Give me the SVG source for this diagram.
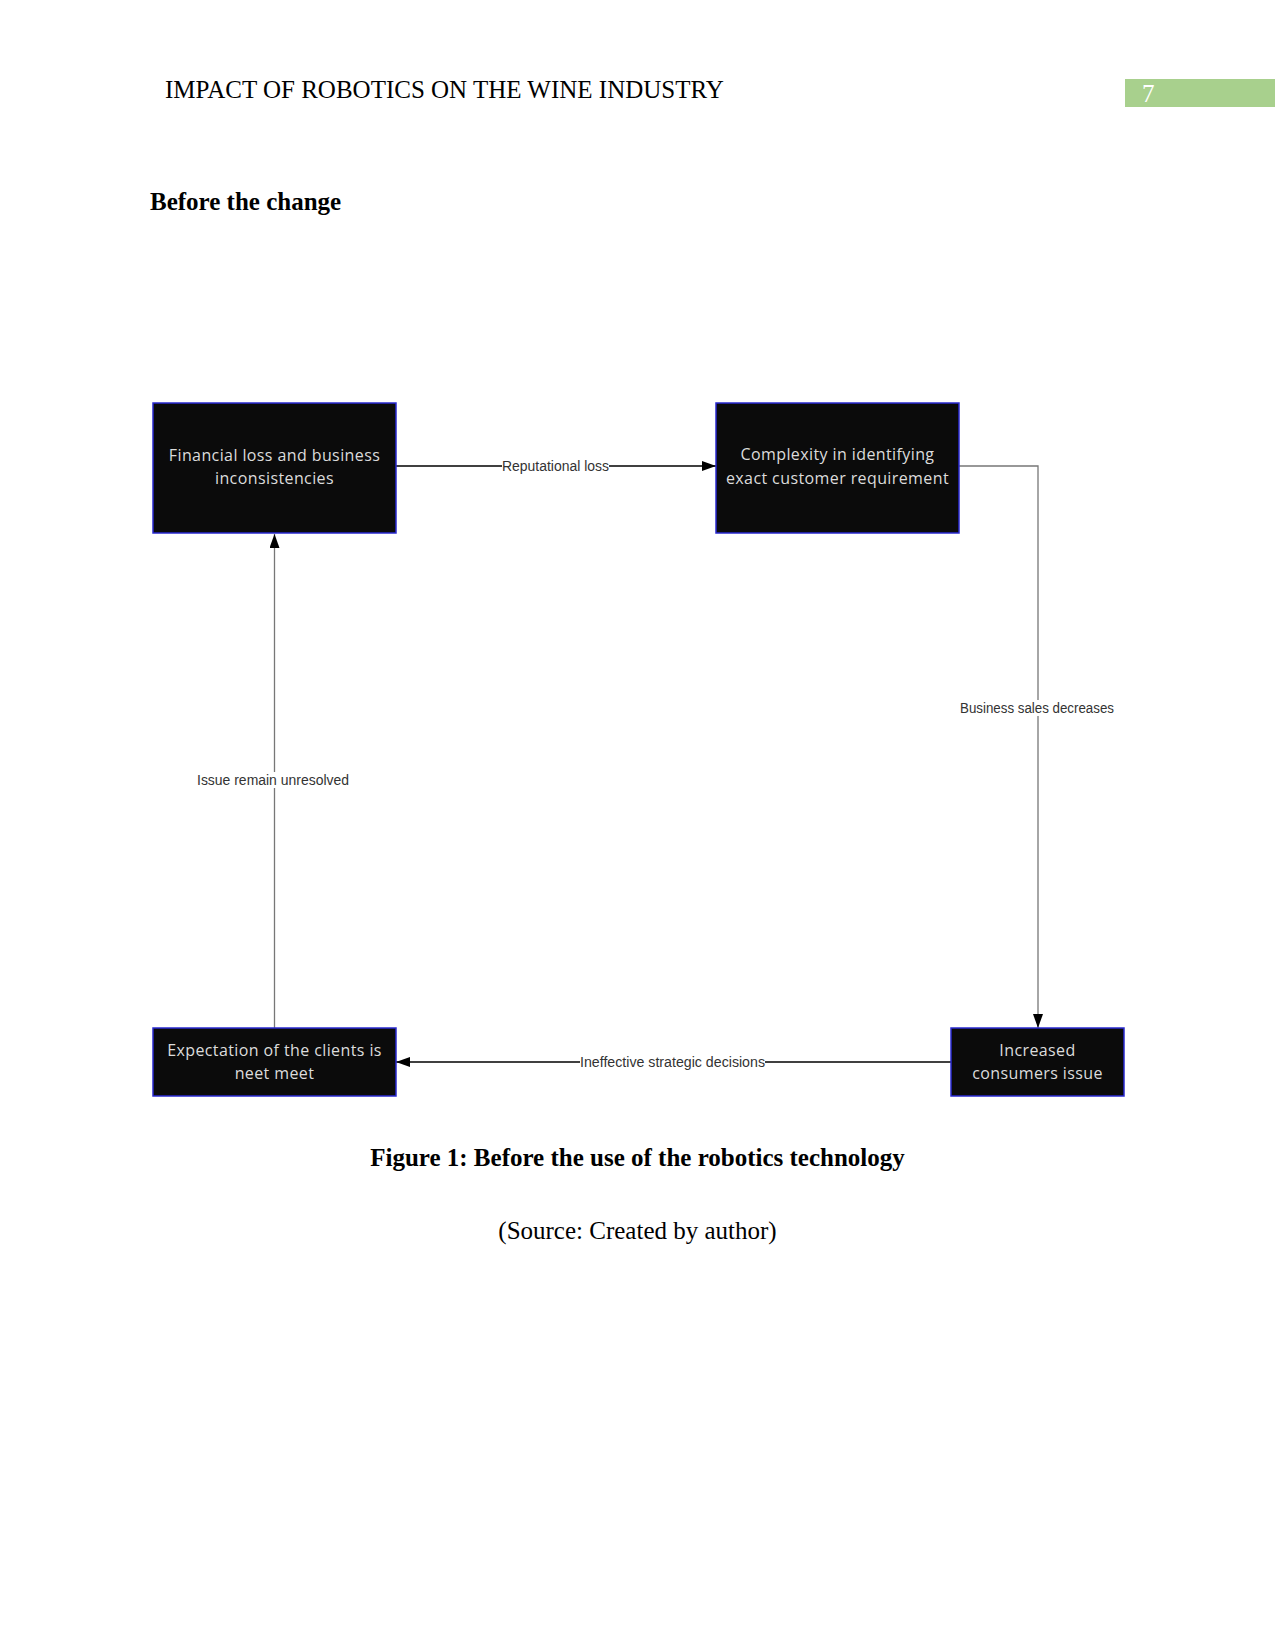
<svg xmlns="http://www.w3.org/2000/svg" width="1275" height="1650" viewBox="0 0 1275 1650">
<defs>
<style>
.serif{font-family:"Liberation Serif","Times New Roman",serif;font-size:25px;fill:#000}
.node rect{fill:#0b0b0b;stroke:#2a2ad0;stroke-width:1.5}
.node text{font-family:"Open Sans","Liberation Sans",sans-serif;font-size:16px;letter-spacing:0.4px;fill:#dcdcdc;text-anchor:middle}
.lbl{font-family:"Liberation Sans",Arial,sans-serif;font-size:14px;fill:#333;text-anchor:middle}
.lblbg{fill:#fff}
.blk{stroke:#000;stroke-width:1.3;fill:none}
.gry{stroke:#777;stroke-width:1.3;fill:none}
</style>
<marker id="arr" markerWidth="14" markerHeight="10" refX="14" refY="5" orient="auto" markerUnits="userSpaceOnUse">
<path d="M0,0 L14,5 L0,10 Z" fill="#000"/>
</marker>
</defs>
<rect width="1275" height="1650" fill="#fff"/>
<text class="serif" x="165" y="98">IMPACT OF ROBOTICS ON THE WINE INDUSTRY</text>
<rect x="1125" y="79" width="150" height="28" fill="#a8d08d"/>
<text class="serif" x="1142" y="102" style="fill:#fff">7</text>
<text class="serif" x="150" y="210" font-weight="bold">Before the change</text>

<g id="connectors">
<line class="blk" x1="396" y1="466" x2="716" y2="466" marker-end="url(#arr)"/>
<rect class="lblbg" x="502" y="458" width="107" height="16"/>
<text class="lbl" x="555.5" y="471" textLength="107" lengthAdjust="spacingAndGlyphs">Reputational loss</text>

<polyline class="gry" points="959,466 1038,466 1038,1028" marker-end="url(#arr)"/>
<rect class="lblbg" x="960" y="700" width="154" height="16"/>
<text class="lbl" x="1037" y="713" textLength="154" lengthAdjust="spacingAndGlyphs">Business sales decreases</text>

<line class="blk" x1="951" y1="1062" x2="396" y2="1062" marker-end="url(#arr)"/>
<rect class="lblbg" x="580" y="1054" width="185" height="16"/>
<text class="lbl" x="672.5" y="1067" textLength="185" lengthAdjust="spacingAndGlyphs">Ineffective strategic decisions</text>

<line class="gry" x1="274.5" y1="1028" x2="274.5" y2="534" marker-end="url(#arr)"/>
<rect class="lblbg" x="197" y="772" width="152" height="16"/>
<text class="lbl" x="273" y="785" textLength="152" lengthAdjust="spacingAndGlyphs">Issue remain unresolved</text>
</g>

<g id="node-financial" class="node">
<rect x="153" y="403" width="243" height="130"/>
<text x="274.5" y="461">Financial loss and business</text>
<text x="274.5" y="484">inconsistencies</text>
</g>
<g id="node-complexity" class="node">
<rect x="716" y="403" width="243" height="130"/>
<text x="837.5" y="460">Complexity in identifying</text>
<text x="837.5" y="484">exact customer requirement</text>
</g>
<g id="node-increased" class="node">
<rect x="951" y="1028" width="173" height="68"/>
<text x="1037.5" y="1056">Increased</text>
<text x="1037.5" y="1079">consumers issue</text>
</g>
<g id="node-expectation" class="node">
<rect x="153" y="1028" width="243" height="68"/>
<text x="274.5" y="1056">Expectation of the clients is</text>
<text x="274.5" y="1079">neet meet</text>
</g>

<text class="serif" x="637.5" y="1166" font-weight="bold" text-anchor="middle">Figure 1: Before the use of the robotics technology</text>
<text class="serif" x="637.5" y="1239" text-anchor="middle">(Source: Created by author)</text>
</svg>
